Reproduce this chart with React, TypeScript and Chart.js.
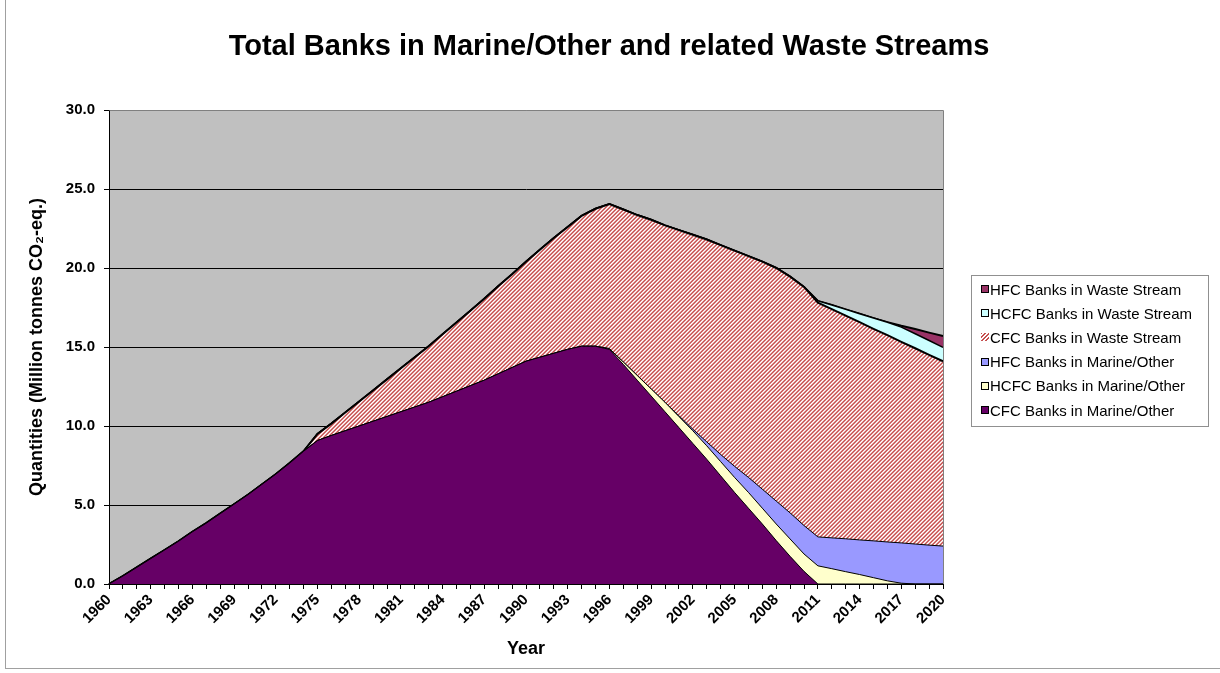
import React, { useEffect, useRef } from 'react';
import { Chart, registerables } from 'chart.js';

Chart.register(...registerables);

// Categories: one per year, 1960 through 2020
const years: string[] = Array.from({ length: 61 }, (_, i) => String(1960 + i));

// Bank sizes, million tonnes CO2-eq., one value per year 1960..2020
const cfcMarine = [
  0, 0.5, 1.05, 1.6, 2.15, 2.7, 3.3, 3.85, 4.45, 5.05,
  5.65, 6.3, 6.95, 7.65, 8.4, 9.08, 9.4, 9.7, 10.0, 10.3,
  10.6, 10.9, 11.2, 11.5, 11.85, 12.2, 12.55, 12.9, 13.3, 13.7,
  14.1, 14.35, 14.6, 14.85, 15.05, 15.05, 14.85, 13.9, 12.9, 11.9,
  10.9, 9.9, 8.9, 7.9, 6.85, 5.8, 4.8, 3.8, 2.75, 1.75,
  0.8, 0, 0, 0, 0, 0, 0, 0, 0, 0,
  0,
];

const hcfcMarine = [
  0, 0, 0, 0, 0, 0, 0, 0, 0, 0,
  0, 0, 0, 0, 0, 0, 0, 0, 0, 0,
  0, 0, 0, 0, 0, 0, 0, 0, 0, 0,
  0, 0, 0, 0, 0, 0, 0.05, 0.15, 0.3, 0.45,
  0.6, 0.7, 0.8, 0.85, 0.9, 0.95, 1.0, 1.0, 1.05, 1.1,
  1.1, 1.15, 0.97, 0.78, 0.6, 0.4, 0.2, 0.05, 0, 0,
  0,
];

const hfcMarine = [
  0, 0, 0, 0, 0, 0, 0, 0, 0, 0,
  0, 0, 0, 0, 0, 0, 0, 0, 0, 0,
  0, 0, 0, 0, 0, 0, 0, 0, 0, 0,
  0, 0, 0, 0, 0, 0, 0, 0, 0, 0,
  0, 0.05, 0.1, 0.25, 0.45, 0.7, 0.95, 1.2, 1.45, 1.65,
  1.8, 1.83, 1.95, 2.08, 2.19, 2.33, 2.46, 2.55, 2.53, 2.46,
  2.4,
];

const cfcWaste = [
  0, 0, 0, 0, 0, 0, 0, 0, 0, 0,
  0, 0, 0, 0, 0, 0.42, 0.75, 1.15, 1.55, 1.95,
  2.35, 2.75, 3.15, 3.55, 3.95, 4.35, 4.75, 5.15, 5.55, 5.9,
  6.3, 6.8, 7.3, 7.75, 8.25, 8.7, 9.15, 9.65, 10.15, 10.7,
  11.2, 11.75, 12.3, 12.8, 13.25, 13.65, 14.0, 14.4, 14.75, 14.95,
  15.1, 14.82, 14.48, 14.12, 13.78, 13.42, 13.09, 12.73, 12.39, 12.04,
  11.7,
];

const hcfcWaste = [
  0, 0, 0, 0, 0, 0, 0, 0, 0, 0,
  0, 0, 0, 0, 0, 0, 0, 0, 0, 0,
  0, 0, 0, 0, 0, 0, 0, 0, 0, 0,
  0, 0, 0, 0, 0, 0, 0, 0, 0, 0,
  0, 0, 0, 0, 0, 0, 0, 0, 0, 0,
  0, 0.12, 0.26, 0.4, 0.54, 0.68, 0.82, 0.93, 0.92, 0.91,
  0.88,
];

const hfcWaste = [
  0, 0, 0, 0, 0, 0, 0, 0, 0, 0,
  0, 0, 0, 0, 0, 0, 0, 0, 0, 0,
  0, 0, 0, 0, 0, 0, 0, 0, 0, 0,
  0, 0, 0, 0, 0, 0, 0, 0, 0, 0,
  0, 0, 0, 0, 0, 0, 0, 0, 0, 0,
  0, 0, 0, 0, 0, 0, 0, 0.08, 0.3, 0.5,
  0.72,
];

const seriesLabels = [
  'CFC Banks in Marine/Other',
  'HCFC Banks in Marine/Other',
  'HFC Banks in Marine/Other',
  'CFC Banks in Waste Stream',
  'HCFC Banks in Waste Stream',
  'HFC Banks in Waste Stream',
];

const yTicks = [0, 5, 10, 15, 20, 25, 30];

const chartTitle = 'Total Banks in Marine/Other and related Waste Streams';

const FONT = "'Liberation Sans', Arial, Helvetica, sans-serif";
const HATCH = 'hatch';
const seriesColors = ['#660066', '#FFFFCC', '#9999FF', HATCH, '#CCFFFF', '#993366'];
const seriesBorders = [1, 1, 1, 2, 1.5, 2];

// Red/white diagonal stripes used for the CFC waste stream area
function makeHatch(): CanvasPattern | string {
  const c = document.createElement('canvas');
  c.width = 4;
  c.height = 4;
  const g = c.getContext('2d');
  if (!g) return '#E0A0A0';
  const shades = ['#C65050', '#DA8585', '#FFFFFF', '#EEC0C0'];
  for (let y = 0; y < 4; y++) {
    for (let x = 0; x < 4; x++) {
      g.fillStyle = shades[(x + y) % 4];
      g.fillRect(x, y, 1, 1);
    }
  }
  return g.createPattern(c, 'repeat') || '#E0A0A0';
}

// Grey plot background plus the grey frame on the top and right of the plot area
const plotFrame = {
  id: 'plotFrame',
  beforeDraw(chart: any) {
    const { ctx, chartArea: a } = chart;
    ctx.save();
    ctx.fillStyle = '#C0C0C0';
    ctx.fillRect(a.left, a.top, a.right - a.left, a.bottom - a.top);
    ctx.restore();
  },
  afterDatasetsDraw(chart: any) {
    const { ctx, chartArea: a } = chart;
    ctx.save();
    ctx.strokeStyle = '#808080';
    ctx.lineWidth = 1;
    ctx.beginPath();
    ctx.moveTo(Math.round(a.left) + 0.5, Math.round(a.top) + 0.5);
    ctx.lineTo(Math.round(a.right) + 0.5, Math.round(a.top) + 0.5);
    ctx.lineTo(Math.round(a.right) + 0.5, Math.round(a.bottom));
    ctx.stroke();
    ctx.restore();
  },
};

const seriesData = [cfcMarine, hcfcMarine, hfcMarine, cfcWaste, hcfcWaste, hfcWaste];

export default function App() {
  const canvasRef = useRef<HTMLCanvasElement | null>(null);

  useEffect(() => {
    if (!canvasRef.current) return;
    const hatch = makeHatch();
    const chart = new Chart(canvasRef.current, {
      type: 'line',
      data: {
        labels: years,
        datasets: seriesData.map((d, i) => ({
          label: seriesLabels[i],
          data: d,
          backgroundColor: seriesColors[i] === HATCH ? hatch : seriesColors[i],
          borderColor: '#000000',
          borderWidth: seriesBorders[i],
          fill: i === 0 ? 'origin' : '-1',
          pointRadius: 0,
          pointHoverRadius: 0,
          tension: 0,
        })) as any,
      },
      options: {
        responsive: false,
        animation: false,
        events: [],
        layout: { padding: { left: 0, right: 277, top: 110, bottom: 0 } },
        plugins: {
          legend: { display: false },
          tooltip: { enabled: false },
          title: { display: false },
        },
        scales: {
          x: {
            type: 'category',
            offset: false,
            grid: {
              drawOnChartArea: false,
              drawTicks: true,
              tickLength: 5,
              color: '#000',
            },
            border: { color: '#000', width: 1 },
            ticks: {
              autoSkip: false,
              maxRotation: 45,
              minRotation: 45,
              padding: 2,
              color: '#000',
              font: { family: FONT, size: 15, weight: 'bold' },
              callback: (_v: any, i: number) => (i % 3 === 0 ? years[i] : ''),
            },
            title: {
              display: true,
              text: 'Year',
              color: '#000',
              font: { family: FONT, size: 18, weight: 'bold' },
              padding: { top: 0, bottom: 13 },
            },
            afterFit: (s: any) => {
              s.height = 89;
            },
          },
          y: {
            stacked: true,
            min: yTicks[0],
            max: yTicks[yTicks.length - 1],
            grid: {
              color: (c: any) => (c.tick && c.tick.value === 30 ? '#808080' : '#000'),
              tickColor: '#000',
              tickLength: 5,
              lineWidth: 1,
            },
            border: { color: '#000', width: 1 },
            afterBuildTicks: (s: any) => {
              s.ticks = yTicks.map((v) => ({ value: v }));
            },
            ticks: {
              padding: 9,
              color: '#000',
              font: { family: FONT, size: 15, weight: 'bold' },
              callback: (v: any) => Number(v).toFixed(1),
            },
            title: {
              display: true,
              text: 'Quantities (Million tonnes CO\u2082-eq.)',
              color: '#000',
              font: { family: FONT, size: 18, weight: 'bold' },
              padding: { top: 26, bottom: 0 },
            },
            afterFit: (s: any) => {
              s.width = 109;
            },
          },
        },
      } as any,
      plugins: [plotFrame],
    });
    return () => chart.destroy();
  }, []);

  const legendOrder = [5, 4, 3, 2, 1, 0];
  const hatchCss =
    'repeating-linear-gradient(135deg, #C65050 0px, #C65050 1.4px, #FFFFFF 1.4px, #FFFFFF 2.8px)';

  return (
    <div
      style={{
        position: 'absolute',
        left: 0,
        top: 0,
        width: 1220,
        height: 673,
        background: '#fff',
        overflow: 'hidden',
        fontFamily: FONT,
      }}
    >
      <canvas ref={canvasRef} width={1220} height={673} style={{ display: 'block' }} />
      <div
        style={{
          position: 'absolute',
          left: 0,
          top: 28,
          width: 1218,
          textAlign: 'center',
          fontSize: 29,
          lineHeight: '34px',
          fontWeight: 'bold',
          color: '#000',
          whiteSpace: 'nowrap',
        }}
      >
        {chartTitle}
      </div>
      <div
        style={{
          position: 'absolute',
          left: 5,
          top: -2,
          width: 1220,
          height: 670,
          borderLeft: '1px solid #A0A0A0',
          borderBottom: '1px solid #A0A0A0',
          pointerEvents: 'none',
        }}
      />
      <div
        style={{
          position: 'absolute',
          left: 971,
          top: 275,
          width: 238,
          height: 152,
          border: '1px solid #909090',
          background: '#fff',
          boxSizing: 'border-box',
        }}
      >
        {legendOrder.map((idx, row) => (
          <div
            key={seriesLabels[idx]}
            style={{
              position: 'absolute',
              left: 9,
              top: 5 + row * 24.2,
              height: 16,
              display: 'flex',
              alignItems: 'center',
              whiteSpace: 'nowrap',
              fontSize: 15,
              color: '#000',
            }}
          >
            <span
              style={{
                display: 'inline-block',
                width: 8,
                height: 8,
                marginRight: 1,
                boxSizing: 'border-box',
                border: seriesColors[idx] === HATCH ? 'none' : '1px solid #000',
                background: seriesColors[idx] === HATCH ? hatchCss : seriesColors[idx],
              }}
            />
            <span>{seriesLabels[idx]}</span>
          </div>
        ))}
      </div>
    </div>
  );
}
